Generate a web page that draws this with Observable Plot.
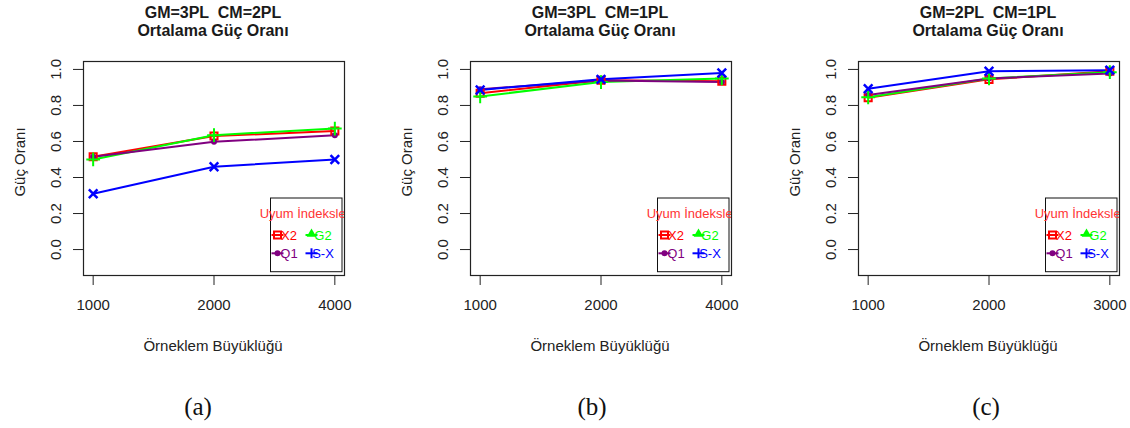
<!DOCTYPE html>
<html>
<head>
<meta charset="utf-8">
<script src="https://cdn.jsdelivr.net/npm/d3@7"></script>
<script src="https://cdn.jsdelivr.net/npm/@observablehq/plot@0.6"></script>
<style>
  html, body { margin: 0; padding: 0; }
  body { width: 1130px; height: 428px; overflow: hidden; background: #fff; position: relative;
         font-family: "Liberation Sans", Arial, sans-serif; color: #222; }
  .abs { position: absolute; white-space: nowrap; }
  .title { font-weight: bold; font-size: 16px; line-height: 18px; text-align: center; transform: translateX(-50%); color: #1a1a1a; }
  .xlab { font-size: 15px; line-height: 15px; transform: translateX(-50%); }
  .ylab { font-size: 15px; line-height: 15px; transform: translate(-50%, -50%) rotate(-90deg); }
  .cap { font-family: "Liberation Serif", "Times New Roman", serif; font-size: 25px; line-height: 25px; transform: translate(-50%, -50%); color: #111; }
  .panel { position: absolute; top: 0; }
</style>
</head>
<body>
<script>
// ---------- data ----------
const panelTitles = ["GM=3PL  CM=2PL", "GM=3PL  CM=1PL", "GM=2PL  CM=1PL"];
const subtitle = "Ortalama Güç Oranı";
const captions = ["(a)", "(b)", "(c)"];
const xLabel = "Örneklem Büyüklüğü";
const yLabel = "Güç Oranı";
const legendTitle = "Uyum İndeksleri";
const seriesNames = ["X2", "G2", "Q1", "S-X"];
const seriesColors = ["#FF0000", "#00FF00", "#800080", "#0000FF"];
const yTicks = [0, 0.2, 0.4, 0.6, 0.8, 1.0];
const xTicksA = ["1000", "2000", "4000"];
const xTicksB = ["1000", "2000", "4000"];
const xTicksC = ["1000", "2000", "3000"];

// panel (a)
const a_X2 = [0.515, 0.630, 0.658];
const a_G2 = [0.500, 0.635, 0.672];
const a_Q1 = [0.515, 0.598, 0.635];
const a_SX = [0.310, 0.460, 0.500];
// panel (b)
const b_X2 = [0.868, 0.940, 0.935];
const b_G2 = [0.850, 0.930, 0.950];
const b_Q1 = [0.890, 0.938, 0.930];
const b_SX = [0.886, 0.945, 0.980];
// panel (c)
const c_X2 = [0.843, 0.945, 0.990];
const c_G2 = [0.845, 0.950, 0.985];
const c_Q1 = [0.858, 0.950, 0.977];
const c_SX = [0.893, 0.990, 0.996];

const panels = [
  {title: panelTitles[0], caption: captions[0], ticks: xTicksA, vals: [a_X2, a_G2, a_Q1, a_SX]},
  {title: panelTitles[1], caption: captions[1], ticks: xTicksB, vals: [b_X2, b_G2, b_Q1, b_SX]},
  {title: panelTitles[2], caption: captions[2], ticks: xTicksC, vals: [c_X2, c_G2, c_Q1, c_SX]}
];

// ---------- layout ----------
const lefts = [0, 387, 775];
const widths = [375, 375, 355];
const captionX = [198, 592, 986];
const mL = 83, plotW = 261, mT = 61, plotH = 214, H = 320;

const font = "'Liberation Sans', Arial, sans-serif";

function addDiv(cls, text, left, top) {
  const d = document.createElement("div");
  d.className = "abs " + cls;
  d.textContent = text;
  d.style.left = left + "px";
  d.style.top = top + "px";
  document.body.appendChild(d);
  return d;
}

panels.forEach((p, i) => {
  const W = widths[i];
  const rows = seriesNames.flatMap((s, k) => p.vals[k].map((v, j) => ({s, x: j + 1, y: v})));
  const bySeries = s => rows.filter(r => r.s === s);

  const chart = Plot.plot({
    width: W, height: H,
    marginLeft: mL, marginRight: W - mL - plotW, marginTop: mT, marginBottom: H - mT - plotH,
    style: {fontFamily: font, fontSize: "15px", color: "#222", background: "transparent", overflow: "visible"},
    x: {domain: [0.92, 3.08], axis: null},
    y: {domain: [-0.144, 1.044], axis: null},
    color: {domain: seriesNames, range: seriesColors},
    marks: [
      Plot.axisX([1, 2, 3], {tickSize: 10, tickPadding: 14, tickFormat: d => p.ticks[d - 1], fontSize: 15, label: null}),
      Plot.axisY(yTicks, {tickSize: 10, tickRotate: -90, tickPadding: 13, tickFormat: d => d.toFixed(1), fontSize: 15, label: null}),
      Plot.line(rows, {x: "x", y: "y", z: "s", stroke: "s", strokeWidth: 2}),
      Plot.dot(bySeries("X2"), {x: "x", y: "y", symbol: "square", stroke: "s", strokeWidth: 2, r: 4}),
      Plot.dot(bySeries("Q1"), {x: "x", y: "y", symbol: "circle", fill: "s", r: 3}),
      Plot.dot(bySeries("G2"), {x: "x", y: "y", symbol: "plus", stroke: "s", strokeWidth: 2, r: 4.5}),
      Plot.dot(bySeries("S-X"), {x: "x", y: "y", symbol: "times", stroke: "s", strokeWidth: 2.5, r: 4}),
      Plot.frame({stroke: "#222", strokeWidth: 1.2})
    ]
  });
  chart.classList.add("panel");
  chart.style.left = lefts[i] + "px";
  document.body.appendChild(chart);

  // legend (inside plot region, clipped to it)
  const svg = d3.select(chart);
  const R = mL + plotW, B = mT + plotH;
  const clipId = "clip" + i;
  svg.append("defs").append("clipPath").attr("id", clipId)
    .append("rect").attr("x", mL).attr("y", mT).attr("width", plotW).attr("height", plotH);
  const g = svg.append("g").attr("clip-path", `url(#${clipId})`)
    .attr("font-family", font).attr("font-size", 13);
  const L = R - 73.5, T = B - 77;
  g.append("rect").attr("x", L).attr("y", T).attr("width", 71.5).attr("height", 73.7)
    .attr("fill", "white").attr("stroke", "#111").attr("stroke-width", 1);
  g.append("text").attr("x", L + 35.8).attr("y", T + 19.5).attr("text-anchor", "middle")
    .attr("fill", "#FF3333").text(legendTitle);
  const slots = [[0, 0, 0], [1, 1, 0], [2, 0, 1], [3, 1, 1]]; // series, col, row
  slots.forEach(([k, col, row]) => {
    const cy = T + 37 + row * 18.3;
    const sx = L + 7 + col * 34;
    const tx = L + 18.5 + col * 34;
    const c = seriesColors[k];
    g.append("line").attr("x1", sx - 6).attr("x2", sx + 6).attr("y1", cy).attr("y2", cy)
      .attr("stroke", c).attr("stroke-width", 2);
    if (k === 0) {
      g.append("rect").attr("x", sx - 3.5).attr("y", cy - 3.5).attr("width", 7).attr("height", 7)
        .attr("fill", "none").attr("stroke", c).attr("stroke-width", 2);
    } else if (k === 1) {
      g.append("path").attr("transform", `translate(${sx},${cy - 1})`)
        .attr("d", d3.symbol(d3.symbolTriangle, 40)()).attr("fill", c);
    } else if (k === 2) {
      g.append("circle").attr("cx", sx).attr("cy", cy).attr("r", 3).attr("fill", c);
    } else {
      g.append("line").attr("x1", sx).attr("x2", sx).attr("y1", cy - 5).attr("y2", cy + 5)
        .attr("stroke", c).attr("stroke-width", 2);
    }
    g.append("text").attr("x", tx).attr("y", cy + 4.7).attr("fill", c).text(seriesNames[k]);
  });

  // HTML texts
  const cx = lefts[i] + mL + plotW / 2 - 17.5;
  const t = addDiv("title", p.title + "\n" + subtitle, cx + 17.5 - 17.5 + 0, 4);
  t.style.whiteSpace = "pre";
  t.style.left = (lefts[i] + 213) + "px";
  addDiv("xlab", xLabel, lefts[i] + 213, 338);
  addDiv("ylab", yLabel, lefts[i] + 19, 162);
  addDiv("cap", p.caption, captionX[i], 406);
});
</script>
</body>
</html>
